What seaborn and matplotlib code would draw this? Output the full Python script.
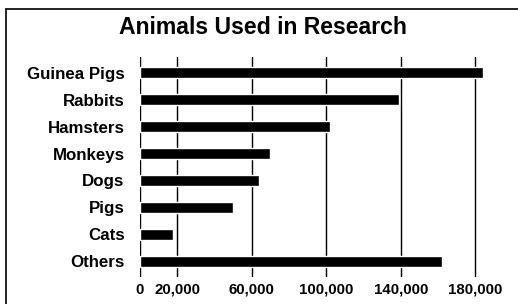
import matplotlib
matplotlib.use("Agg")
import matplotlib.pyplot as plt
import seaborn as sns
import pandas as pd
from matplotlib.lines import Line2D

# data
animals = ["Guinea Pigs", "Rabbits", "Hamsters", "Monkeys", "Dogs", "Pigs", "Cats", "Others"]
counts = [184000, 139000, 102000, 70000, 64000, 50000, 17500, 162000]
ticks = [0, 20000, 60000, 100000, 140000, 180000]
tick_labels = ["0", "20,000", "60,000", "100,000", "140,000", "180,000"]

df = pd.DataFrame({"Animal": animals, "Count": counts})

sns.set_theme(style="white")
plt.rcParams["font.family"] = ["Liberation Sans", "DejaVu Sans"]

W, H = 518, 304
fig = plt.figure(figsize=(W / 100, H / 100), dpi=100)
ax = fig.add_axes([140 / W, 1 - 277 / H, 360 / W, 220 / H])

sns.barplot(data=df, x="Count", y="Animal", color="black", orient="h",
            width=0.39, saturation=1, ax=ax, zorder=3)

ax.set_xlim(0, 193300)
ax.set_ylim(7.58, -0.58)
ax.set_xticks(ticks)
ax.set_xticklabels(tick_labels)
ax.set_xlabel("")
ax.set_ylabel("")
ax.grid(axis="x", color="black", linewidth=1.0, zorder=0)
ax.grid(axis="y", visible=False)
for s in ax.spines.values():
    s.set_visible(False)
ax.tick_params(axis="y", length=0, pad=11, labelsize=12.2, labelcolor="black")
ax.tick_params(axis="x", length=0, pad=4, labelsize=10.8, labelcolor="black")
for lbl in ax.get_yticklabels() + ax.get_xticklabels():
    lbl.set_fontweight("bold")

fig.text(263 / W, 1 - 27 / H, "Animals Used in Research", ha="center", va="center",
         fontsize=16.6, fontweight="bold", color="black")

# outer frame of the scanned figure (left and top edges)
fig.add_artist(Line2D([6 / W, 6 / W], [0, 1 - 9 / H], color="black", lw=1.2))
fig.add_artist(Line2D([6 / W, 1], [1 - 9 / H, 1 - 9 / H], color="black", lw=1.2))

fig.savefig("out.png", dpi=100)
